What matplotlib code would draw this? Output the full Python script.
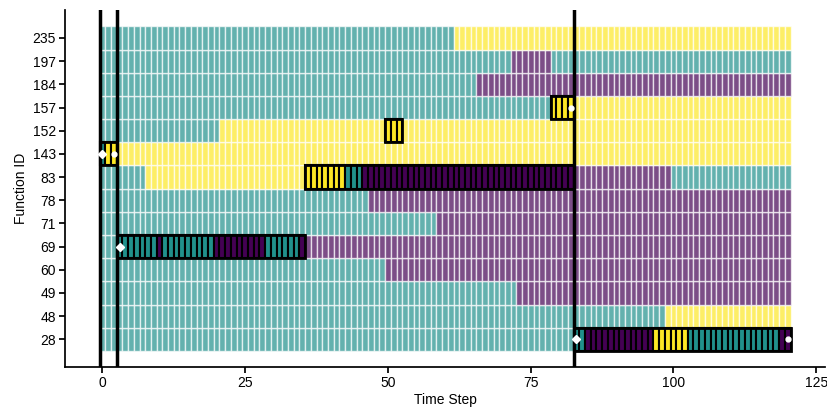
import numpy as np
import matplotlib
matplotlib.use("Agg")
from matplotlib import pyplot as plt
from matplotlib.patches import Rectangle

plt.rcParams['font.family'] = ['Liberation Sans Narrow', 'Liberation Sans', 'DejaVu Sans']
plt.rcParams['font.size'] = 10

# Function IDs, bottom to top
function_ids = [28, 48, 49, 60, 69, 71, 78, 83, 143, 152, 157, 184, 197, 235]
n_steps = 121

# state per time step as runs of (state, length); 0 = purple, 1 = teal, 2 = yellow
runs = {
    235: [(1, 62), (2, 59)],
    197: [(1, 72), (0, 7), (1, 42)],
    184: [(1, 66), (0, 55)],
    157: [(1, 79), (2, 42)],
    152: [(1, 21), (2, 100)],
    143: [(1, 1), (2, 120)],
    83: [(1, 8), (2, 35), (1, 3), (0, 54), (1, 21)],
    78: [(1, 47), (0, 74)],
    71: [(1, 59), (0, 62)],
    69: [(1, 10), (0, 1), (1, 9), (0, 9), (1, 6), (0, 86)],
    60: [(1, 50), (0, 71)],
    49: [(1, 73), (0, 48)],
    48: [(1, 99), (2, 22)],
    28: [(1, 85), (0, 12), (2, 6), (1, 16), (0, 2)],
}

# highlighted stretches (function, first step, last step)
highlights = [(143, 0, 2), (69, 3, 35), (83, 36, 82), (152, 50, 52), (157, 79, 82), (28, 83, 120)]

# start / end markers
start_marks = [(143, 0), (69, 3), (28, 83)]
end_marks = [(143, 2), (157, 82), (28, 120)]

# boundary steps with vertical lines
event_steps = [0, 3, 83]

cmap = plt.get_cmap('viridis')
state_colors = {0: cmap(0.0), 1: cmap(0.5), 2: cmap(1.0)}

fig = plt.figure(figsize=(8.28, 4.07), dpi=100)
ax = fig.add_axes([0.0785, 0.098, 0.918, 0.877])

steps = np.arange(n_steps)
for row, fid in enumerate(function_ids):
    states = np.concatenate([[s] * n for s, n in runs[fid]])
    cols = [state_colors[s] for s in states]
    ax.barh([row] * n_steps, 1, left=steps - 0.5, height=1, color=cols,
            alpha=0.7, edgecolor='white', linewidth=1)

for fid, t0, t1 in highlights:
    row = function_ids.index(fid)
    states = np.concatenate([[s] * n for s, n in runs[fid]])
    ts = np.arange(t0, t1 + 1)
    cols = [state_colors[s] for s in states[ts]]
    ax.barh([row] * len(ts), 1, left=ts - 0.5, height=1, color=cols,
            edgecolor='black', linewidth=1.5, zorder=3)
    ax.add_patch(Rectangle((t0 - 0.5, row - 0.5), t1 - t0 + 1, 1, fill=False,
                           edgecolor='black', linewidth=2, zorder=4))

for t in event_steps:
    ax.axvline(t - 0.5, color='black', linewidth=2.5, zorder=5)

for fid, t in start_marks:
    ax.plot(t, function_ids.index(fid), marker='D', color='white', markersize=4, zorder=6)
for fid, t in end_marks:
    ax.plot(t, function_ids.index(fid), marker='o', color='white', markersize=3.5, zorder=6)

ax.set_yticks(range(len(function_ids)))
ax.set_yticklabels([str(f) for f in function_ids])
ax.set_xticks([0, 25, 50, 75, 100, 125])
ax.set_xlim(-6.55, 126.55)
ax.set_ylim(-1.2, 13 + 1.2)
ax.set_xlabel('Time Step', labelpad=2)
ax.set_ylabel('Function ID', labelpad=3)

ax.spines['top'].set_visible(False)
ax.spines['right'].set_visible(False)
ax.spines['left'].set_linewidth(1.25)
ax.spines['bottom'].set_linewidth(1.25)
ax.tick_params(direction='out', length=4, width=1.25, pad=2.5)

plt.savefig('out.png', dpi=100)
